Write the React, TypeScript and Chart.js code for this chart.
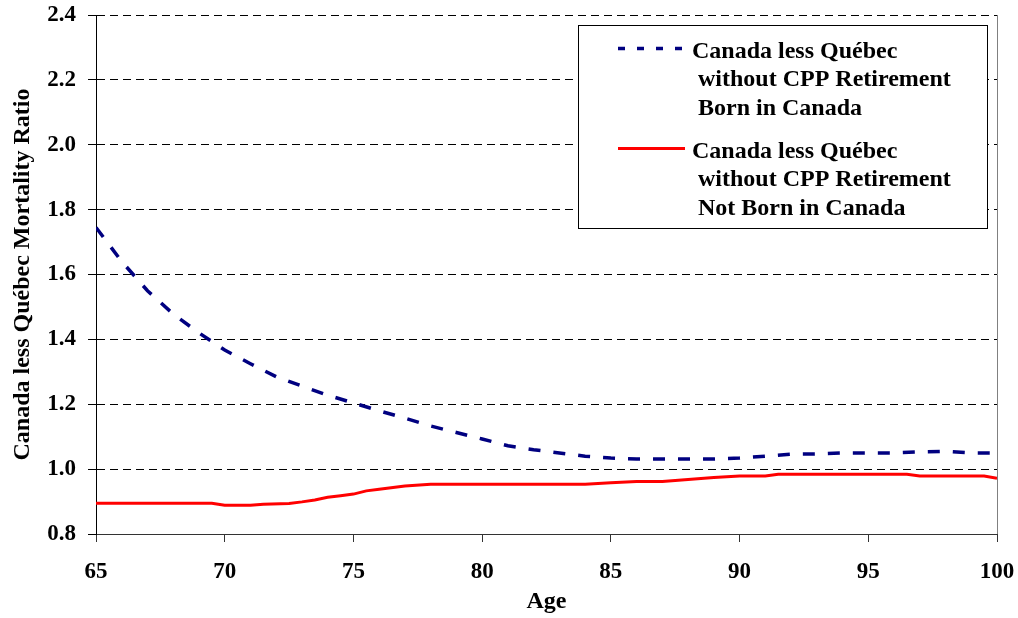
import React, { useEffect, useRef } from "react";
import { Chart, registerables } from "chart.js";

Chart.register(...registerables);

const bornAges: number[] = [65, 66, 67, 68, 69, 70, 71, 72, 73, 74, 75, 76, 77, 78, 79, 80, 81, 82, 83, 84, 85, 86, 87, 88, 89, 90, 91, 92, 93, 94, 95, 96, 97, 98, 99, 100];
const bornValues: number[] = [1.745, 1.64, 1.55, 1.478, 1.42, 1.367, 1.325, 1.285, 1.256, 1.228, 1.204, 1.18, 1.157, 1.133, 1.113, 1.093, 1.072, 1.06, 1.05, 1.04, 1.034, 1.031, 1.031, 1.031, 1.031, 1.034, 1.04, 1.046, 1.047, 1.05, 1.05, 1.05, 1.053, 1.055, 1.05, 1.05];

const notBornAges: number[] = [65, 66, 67, 68, 69, 69.5, 70, 71, 71.5, 72.5, 73, 73.5, 74, 74.5, 75, 75.5, 76, 77, 78, 79, 80, 81, 82, 83, 84, 85, 86, 87, 88, 89, 90, 91, 91.5, 92, 93, 94, 95, 96, 96.5, 97, 98, 99, 99.5, 100];
const notBornValues: number[] = [0.895, 0.895, 0.895, 0.895, 0.895, 0.895, 0.889, 0.889, 0.892, 0.894, 0.899, 0.905, 0.913, 0.918, 0.923, 0.933, 0.938, 0.948, 0.953, 0.953, 0.953, 0.953, 0.953, 0.953, 0.953, 0.958, 0.962, 0.962, 0.968, 0.974, 0.979, 0.979, 0.984, 0.984, 0.984, 0.984, 0.984, 0.984, 0.984, 0.979, 0.979, 0.979, 0.979, 0.972];

const seriesLabels: string[][] = [
  ["Canada less Québec", " without CPP Retirement", " Born in Canada"],
  ["Canada less Québec", " without CPP Retirement", " Not Born in Canada"],
];
const yTitle = "Canada less Québec Mortality Ratio";
const xTitle = "Age";
const yMin = 0.8, yMax = 2.4, yStep = 0.2;
const xMin = 65, xMax = 100, xStep = 5;

const FONT = "'Liberation Serif', 'Times New Roman', serif";
const BLUE = "#000080";
const RED = "#FF0000";
const BLUE_DASH = [12, 13];

const legendPlugin = {
  id: "customLegend",
  afterDraw(chart: any) {
    const ctx = chart.ctx as CanvasRenderingContext2D;
    const area = chart.chartArea;
    ctx.save();
    // right border of plot
    ctx.strokeStyle = "#808080";
    ctx.lineWidth = 1;
    ctx.setLineDash([]);
    ctx.beginPath();
    ctx.moveTo(Math.round(area.right) + 0.5, area.top);
    ctx.lineTo(Math.round(area.right) + 0.5, area.bottom);
    ctx.stroke();

    // legend box
    const bx = 578.5, by = 25.5, bw = 409, bh = 203;
    ctx.fillStyle = "#fff";
    ctx.fillRect(bx, by, bw, bh);
    ctx.strokeStyle = "#000";
    ctx.strokeRect(bx, by, bw, bh);

    const entries = [
      { color: BLUE, dash: [7, 12], width: 3.5, y0: 57.5 },
      { color: RED, dash: [], width: 3, y0: 157.5 },
    ];
    ctx.font = `bold 24px ${FONT}`;
    ctx.textBaseline = "alphabetic";
    ctx.textAlign = "left";
    entries.forEach((e, i) => {
      ctx.strokeStyle = e.color;
      ctx.lineWidth = e.width;
      ctx.setLineDash(e.dash);
      ctx.beginPath();
      ctx.moveTo(618, e.y0 - 9);
      ctx.lineTo(685, e.y0 - 9);
      ctx.stroke();
      ctx.setLineDash([]);
      ctx.fillStyle = "#000";
      seriesLabels[i].forEach((t, j) => {
        ctx.fillText(t, 692, e.y0 + j * 28.5);
      });
    });
    ctx.restore();
  },
};

export default function App() {
  const ref = useRef<HTMLCanvasElement | null>(null);
  useEffect(() => {
    if (!ref.current) return;
    const chart = new Chart(ref.current, {
      type: "line",
      data: {
        datasets: [
          {
            label: seriesLabels[0].join(" "),
            data: bornAges.map((a, i) => ({ x: a, y: bornValues[i] })),
            borderColor: BLUE,
            borderWidth: 3.5,
            borderDash: BLUE_DASH,
            pointRadius: 0,
            tension: 0,
            fill: false,
          },
          {
            label: seriesLabels[1].join(" "),
            data: notBornAges.map((a, i) => ({ x: a, y: notBornValues[i] })),
            borderColor: RED,
            borderWidth: 3,
            pointRadius: 0,
            tension: 0,
            fill: false,
          },
        ],
      },
      options: {
        animation: false,
        responsive: false,
        devicePixelRatio: 1,
        layout: { padding: { top: 15, right: 21, left: 0, bottom: 0 } },
        plugins: { legend: { display: false }, tooltip: { enabled: false } },
        scales: {
          x: {
            type: "linear",
            min: xMin,
            max: xMax,
            afterFit: (s: any) => { s.height = 84; s.paddingLeft = 0; s.paddingRight = 0; },
            ticks: {
              stepSize: xStep,
              color: "#000",
              font: { family: FONT, size: 23, weight: "bold" },
              padding: 16,
              maxRotation: 0,
            },
            grid: { drawOnChartArea: false, tickLength: 8, tickColor: "#333", tickBorderDash: [] },
            border: { color: "#333", width: 1 },
            title: {
              display: true,
              text: xTitle,
              color: "#000",
              font: { family: FONT, size: 24, weight: "bold" },
              padding: { top: 0, bottom: 2 },
            },
          },
          y: {
            type: "linear",
            min: yMin,
            max: yMax,
            afterFit: (s: any) => { s.width = 96; s.paddingTop = 0; s.paddingBottom = 0; },
            ticks: {
              stepSize: yStep,
              color: "#000",
              font: { family: FONT, size: 23, weight: "bold" },
              padding: 12,
              callback: (v: any) => Number(v).toFixed(1),
            },
            grid: { color: "#000", lineWidth: 1, tickLength: 8, tickColor: "#000", tickBorderDash: [] },
            border: { color: "#000", width: 1, dash: [8, 5] },
            title: {
              display: true,
              text: yTitle,
              color: "#000",
              font: { family: FONT, size: 24, weight: "bold" },
              padding: { top: 8, bottom: 0 },
            },
          },
        },
      },
      plugins: [legendPlugin],
    } as any);
    return () => chart.destroy();
  }, []);
  return (
    <div style={{ position: "absolute", left: 0, top: 0, width: 1018, height: 618, background: "#fff" }}>
      <canvas ref={ref} width={1018} height={618} style={{ display: "block" }} />
    </div>
  );
}
